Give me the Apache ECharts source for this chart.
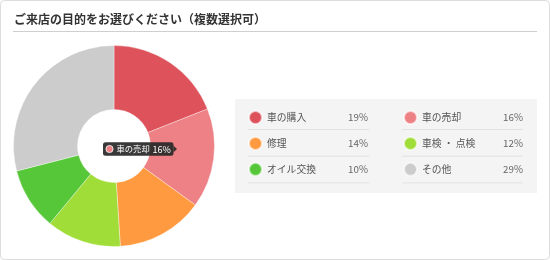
<!DOCTYPE html>
<html><head><meta charset="utf-8">
<script src="https://cdn.jsdelivr.net/npm/echarts@6/dist/echarts.min.js"></script>
<style>html,body{margin:0;padding:0;background:#fff}#c{width:550px;height:260px}</style>
</head><body><div id="c"></div>
<script>
const title = 'ご来店の目的をお選びください（複数選択可）';
const categories = ['車の購入', '車の売却', '修理', '車検・点検', 'オイル交換', 'その他'];
const legendNames = ['車の購入', '車の売却', '修理', '車検・点検', 'オイル交換', 'その他'];
const values = [19, 16, 14, 12, 10, 29];
const colors = ['#DD525B', '#EE8185', '#FF9A40', '#A1DD38', '#56C738', '#CCCCCC'];
const tipIndex = 1;

const FONT = '"Noto Sans CJK JP", "Noto Sans", sans-serif';
const chart = echarts.init(document.getElementById('c'), null, {renderer: 'canvas'});

const data = categories.map((c, i) => ({name: c, value: values[i], itemStyle: {color: colors[i]}}));
const pctOf = name => values[categories.indexOf(name)];
const dispName = name => legendNames[categories.indexOf(name)].replace('・', ' ・ ');

const graphics = [
  {type: 'rect', shape: {x: 0.5, y: 0.5, width: 549, height: 259, r: 4}, style: {fill: '#fff', stroke: '#dcdcdc', lineWidth: 1}, z: -10},
  {type: 'text', left: 14, top: 13, style: {text: title, font: 'bold 12px ' + FONT, fill: '#333'}},
  {type: 'line', shape: {x1: 13, y1: 31.5, x2: 537, y2: 31.5}, style: {stroke: '#cfcfcf', lineWidth: 1}},
  {type: 'rect', shape: {x: 235, y: 99, width: 302, height: 94}, style: {fill: '#f4f4f4'}, z: -5}
];
const rows = Math.ceil(categories.length / 2);
for (let r = 0; r < rows; r++) {
  const y = 129.5 + r * 26.7;
  graphics.push({type: 'line', shape: {x1: 248, y1: y, x2: 369, y2: y}, style: {stroke: '#e2e2e2', lineWidth: 1}, z: -4});
  graphics.push({type: 'line', shape: {x1: 402, y1: y, x2: 523, y2: y}, style: {stroke: '#e2e2e2', lineWidth: 1}, z: -4});
}
// tooltip-like label at center
const TZ = 100;
graphics.push({type: 'rect', z: TZ, shape: {x: 103, y: 142.3, width: 70.5, height: 13.5, r: 2.5}, style: {fill: 'rgba(40,40,40,0.92)'}});
graphics.push({type: 'polygon', z: TZ, shape: {points: [[173.5, 145.8], [177, 149], [173.5, 152.3]]}, style: {fill: 'rgba(40,40,40,0.92)'}});
graphics.push({type: 'circle', z: TZ + 1, shape: {cx: 109.5, cy: 149, r: 3.6}, style: {fill: colors[tipIndex], stroke: '#fff', lineWidth: 0.8}});
graphics.push({type: 'text', z: TZ + 1, x: 116.5, y: 149.2, style: {
  text: '{a|' + categories[tipIndex] + '}{b|' + values[tipIndex] + '%}',
  verticalAlign: 'middle',
  rich: {
    a: {fontSize: 8.3, fontFamily: FONT, fill: '#fff', color: '#fff', width: 36},
    b: {fontSize: 9, fontFamily: FONT, fill: '#fff', color: '#fff'}
  }
}});

chart.setOption({
  animation: false,
  graphic: graphics,
  legend: {
    left: 248, top: 110, width: 300,
    padding: 0,
    orient: 'horizontal',
    icon: 'circle', itemWidth: 13, itemHeight: 13, itemGap: 10.9,
    selectedMode: false,
    data: categories,
    formatter: name => '{n|' + dispName(name) + '}{v|' + pctOf(name) + '%}{s|}',
    textStyle: {
      lineHeight: 13,
      rich: {
        n: {width: 80, fontSize: 9.8, color: '#555', fontFamily: FONT, lineHeight: 13},
        v: {width: 22, align: 'right', fontSize: 9.8, color: '#666', fontFamily: FONT, lineHeight: 13},
        s: {width: 23.1, lineHeight: 13}
      }
    }
  },
  series: [{
    type: 'pie',
    center: [114, 146],
    radius: [36.5, 100.5],
    startAngle: 90,
    clockwise: true,
    label: {show: false},
    labelLine: {show: false},
    emphasis: {disabled: true},
    itemStyle: {borderColor: 'rgba(255,255,255,0.6)', borderWidth: 0.6},
    data: data
  }]
});
</script></body></html>
